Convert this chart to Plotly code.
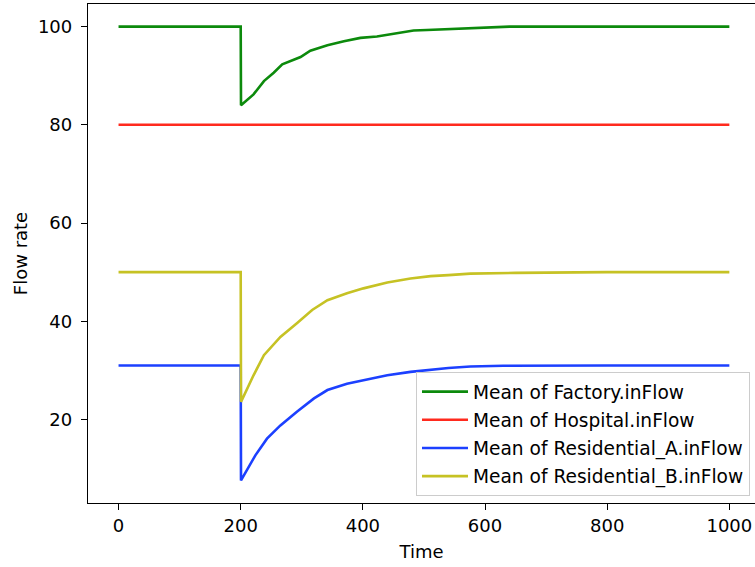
import plotly.graph_objects as go

# Data
time_factory = [0, 200, 200.5, 221, 238, 254, 268, 298, 314, 342, 369, 396, 423, 451, 483, 505, 538, 592, 640, 1000]
factory = [100, 100, 84.0, 86.2, 88.9, 90.6, 92.3, 93.8, 95.1, 96.2, 97.0, 97.7, 98.0, 98.6, 99.2, 99.3, 99.5, 99.8, 100.0, 100.0]

time_hospital = [0, 1000]
hospital = [80, 80]

time_res_a = [0, 200, 200.5, 224, 243, 265, 292, 320, 342, 374, 401, 440, 478, 511, 540, 576, 630, 800, 1000]
res_a = [31.0, 31.0, 7.6, 12.7, 16.1, 18.8, 21.6, 24.3, 26.0, 27.3, 28.0, 29.0, 29.7, 30.2, 30.5, 30.8, 30.95, 31.0, 31.0]

time_res_b = [0, 200, 200.5, 221, 238, 265, 292, 317, 342, 374, 401, 440, 478, 511, 540, 576, 650, 800, 1000]
res_b = [50.0, 50.0, 23.6, 29.0, 33.1, 36.8, 39.6, 42.3, 44.3, 45.7, 46.7, 47.9, 48.7, 49.2, 49.4, 49.7, 49.85, 50.0, 50.0]

series = [
    ("Mean of Factory.inFlow", time_factory, factory, "#0c8a0c"),
    ("Mean of Hospital.inFlow", time_hospital, hospital, "#ff2a1e"),
    ("Mean of Residential_A.inFlow", time_res_a, res_a, "#1c40ff"),
    ("Mean of Residential_B.inFlow", time_res_b, res_b, "#c6c224"),
]

x_ticks = [0, 200, 400, 600, 800, 1000]
y_ticks = [20, 40, 60, 80, 100]

fig = go.Figure()
for i, (name, t, v, c) in enumerate(series):
    fig.add_trace(go.Scatter(x=t, y=v, mode="lines", name=name, legendgroup=str(i),
                             line=dict(color=c, width=2.6)))

font = dict(family="DejaVu Sans", size=18, color="#000000")
legend_font = dict(family="DejaVu Sans", size=18.6, color="#000000")
fig.update_layout(
    width=755, height=567,
    margin=dict(l=88, r=0, t=4, b=64),
    paper_bgcolor="white", plot_bgcolor="white",
    font=font,
    showlegend=True,
    legend=dict(x=0.9925, y=0.014, xanchor="right", yanchor="bottom",
                bgcolor="rgba(255,255,255,0.8)", bordercolor="#cccccc", borderwidth=1,
                font=legend_font, tracegroupgap=1, itemwidth=46),
    xaxis=dict(range=[-50, 1042], tickvals=x_ticks, ticks="outside", ticklen=6, tickwidth=1.3,
               tickcolor="black", showline=True, linecolor="black", linewidth=1.3, mirror=True,
               showgrid=False, zeroline=False, tickfont=font,
               title=dict(text="Time", font=font, standoff=10)),
    yaxis=dict(range=[3.0, 104.6], tickvals=y_ticks, ticks="outside", ticklen=6, tickwidth=1.3,
               tickcolor="black", showline=True, linecolor="black", linewidth=1.3, mirror=False,
               showgrid=False, zeroline=False, tickfont=font, ticklabelstandoff=5,
               title=dict(text="Flow rate", font=font, standoff=5)),
)
fig.write_html("out.html", config={"displayModeBar": False},
               post_script="document.body.style.margin='0';document.body.style.overflow='hidden';")
